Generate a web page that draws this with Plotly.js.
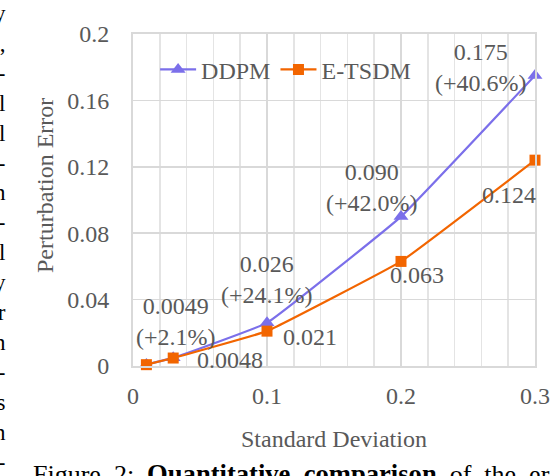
<!DOCTYPE html>
<html>
<head>
<meta charset="utf-8">
<script src="https://cdn.plot.ly/plotly-3.0.1.min.js"></script>
<style>
  html, body { margin: 0; padding: 0; background: #fff; }
  #chart { width: 558px; height: 476px; }
</style>
</head>
<body>
<div id="chart"></div>
<script>
// ── datos ──
const sigma      = [0.01, 0.03, 0.1, 0.2, 0.3];
const ddpmErr    = [0.0009, 0.0049, 0.026, 0.090, 0.175];
const etsdmErr   = [0.0008, 0.0048, 0.021, 0.063, 0.124];
const ddpmPct    = ['', '+2.1%', '+24.1%', '+42.0%', '+40.6%'];
const ddpmTxt    = ['', '0.0049', '0.026', '0.090', '0.175'];
const etsdmTxt   = ['', '0.0048', '0.021', '0.063', '0.124'];
const xTicks     = [0, 0.1, 0.2, 0.3];
const xMinorStep = 0.02;
const yTicks     = [0, 0.04, 0.08, 0.12, 0.16, 0.2];
const yTickText  = ['0', '0.04', '0.08', '0.12', '0.16', '0.2'];

const PURPLE = '#7b6fea';
const ORANGE = '#f26500';
const GRIS   = '#595959';
const FUENTE = '"Liberation Serif", "Times New Roman", serif';

// desplazamientos de las etiquetas (px) respecto a cada punto
const ddpmShift  = [null, [3, 36], [0, 43], [-29, 29], [-54, 8]];
const etsdmShift = [null, [57, -2], [43, -6], [16, -14], [-26, -35]];

const annotations = [];
sigma.forEach((x, i) => {
    if (ddpmTxt[i]) {
        annotations.push({
            x: x, y: ddpmErr[i], xref: 'x', yref: 'y', showarrow: false,
            text: `${ddpmTxt[i]}<br>(${ddpmPct[i]})`,
            xshift: ddpmShift[i][0], yshift: ddpmShift[i][1],
            font: { family: FUENTE, size: 24, color: GRIS },
        });
    }
    if (etsdmTxt[i]) {
        annotations.push({
            x: x, y: etsdmErr[i], xref: 'x', yref: 'y', showarrow: false,
            text: etsdmTxt[i],
            xshift: etsdmShift[i][0], yshift: etsdmShift[i][1],
            font: { family: FUENTE, size: 24, color: GRIS },
        });
    }
});

// títulos de ejes (como anotaciones para ubicarlos igual que el original)
annotations.push({
    text: 'Standard Deviation', xref: 'paper', yref: 'paper',
    x: 0.5, y: (366 - 439) / 332, xanchor: 'center', yanchor: 'middle', showarrow: false,
    font: { family: FUENTE, size: 24, color: GRIS },
});
annotations.push({
    text: 'Perturbation Error', xref: 'paper', yref: 'paper', textangle: -90,
    x: (45 - 133) / 402, y: (366 - 186) / 332, xanchor: 'center', yanchor: 'middle',
    showarrow: false,
    font: { family: FUENTE, size: 24, color: GRIS },
});

// pie de figura (recortado abajo y a la derecha)
annotations.push({
    text: 'Figure&nbsp; 2:&nbsp; <b><span style="font-size:26.6px">Quantitative&nbsp; comparison</span></b>&nbsp; of&nbsp; the&nbsp; er-',
    xref: 'paper', yref: 'paper', xanchor: 'left', yanchor: 'top',
    x: (31 - 133) / 402, y: (366 - 457) / 332, showarrow: false,
    font: { family: FUENTE, size: 26, color: '#000' },
});

// letras del texto de la columna vecina, cortadas en el borde izquierdo
const bordeGlyphs = ['y', ',', '-', 'l', 'l', '-', 'n', '-', 'l', 'y', 'r', 'n', '-', 's', 'n', '-'];
annotations.push({
    text: bordeGlyphs.join('<br>'), xref: 'paper', yref: 'paper',
    xanchor: 'right', yanchor: 'middle', align: 'right',
    x: (8 - 133) / 402, y: (366 - 238) / 332, showarrow: false,
    font: { family: FUENTE, size: 23, color: '#000' },
});

const traces = [
    {
        name: 'DDPM', x: sigma, y: ddpmErr, type: 'scatter', mode: 'lines+markers',
        line: { color: PURPLE, width: 2.2, shape: 'spline', smoothing: 0.25 },
        marker: { symbol: 'triangle-up', size: 13, color: PURPLE },
        cliponaxis: false,
    },
    {
        name: 'E-TSDM', x: sigma, y: etsdmErr, type: 'scatter', mode: 'lines+markers',
        line: { color: ORANGE, width: 2.2, shape: 'spline', smoothing: 0.25 },
        marker: { symbol: 'square', size: 11, color: ORANGE },
        cliponaxis: false,
    },
];

const axisBase = {
    showline: true, mirror: true, linecolor: '#d9d9d9', linewidth: 2,
    gridcolor: '#d9d9d9', gridwidth: 1.5, zeroline: false, ticks: '',
    tickfont: { family: FUENTE, size: 24, color: GRIS },
    fixedrange: true,
};

const layout = {
    width: 558, height: 476,
    margin: { l: 133, r: 23, t: 34, b: 110 },
    paper_bgcolor: '#fff', plot_bgcolor: '#fff',
    showlegend: true,
    legend: {
        orientation: 'h', x: 0.055, y: 0.892, xanchor: 'left', yanchor: 'middle',
        font: { family: FUENTE, size: 24, color: GRIS },
        bgcolor: 'rgba(0,0,0,0)', itemwidth: 36, tracegroupgap: 0,
    },
    xaxis: Object.assign({}, axisBase, {
        range: [xTicks[0], xTicks[xTicks.length - 1]],
        tickmode: 'linear', tick0: xTicks[0], dtick: xTicks[1] - xTicks[0],
        ticklabelstandoff: 7,
        minor: { tickmode: 'linear', tick0: xTicks[0], dtick: xMinorStep, showgrid: true,
                 gridcolor: '#e4e4e4', gridwidth: 1.5 },
    }),
    yaxis: Object.assign({}, axisBase, {
        range: [0, 0.2], tickvals: yTicks, ticktext: yTickText,
        ticklabelstandoff: 17,
    }),
    annotations: annotations,
};

Plotly.newPlot('chart', traces, layout, { staticPlot: true, displayModeBar: false });
</script>
</body>
</html>
